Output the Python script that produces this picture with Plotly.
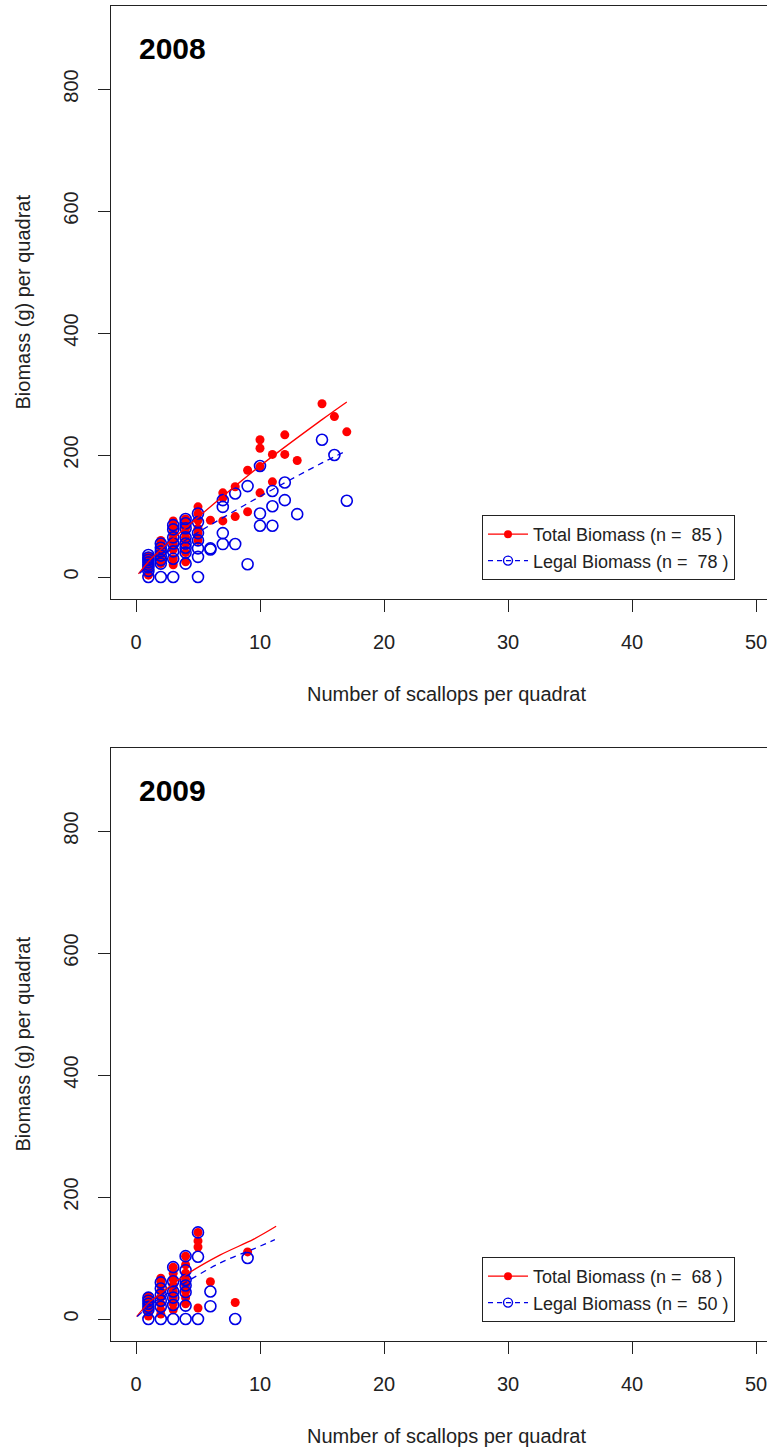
import plotly.graph_objects as go

# ---------------- data ----------------
# 2008
n_total_2008 = [1,1,1,1,1,1,1, 2,2,2,2,2,2,2, 3,3,3,3,3,3,3,3,3, 4,4,4,4,4,4,4,4,
                5,5,5,5,5,5, 6, 7,7,7, 8,8, 9,9, 10,10,10,10, 11,11, 12,12, 13, 15, 16, 17]
b_total_2008 = [3,12,18,22,26,30,34, 22,28,35,42,48,55,60, 20,30,45,55,62,70,78,85,92,
                25,40,55,65,72,80,88,95, 60,72,80,93,104,115, 93, 92,130,138, 99,148,
                107,175, 138,181,211,225, 156,201, 201,233, 191, 284, 263, 238]
n_legal_2008 = [1,1,1,1,1,1,1,1, 2,2,2,2,2,2,2, 3,3,3,3,3,3,3, 4,4,4,4,4,4,4,4,
                5,5,5,5,5,5,5, 6,6, 7,7,7,7, 8,8, 9,9, 10,10,10, 11,11,11, 12,12, 13, 15, 16, 17]
b_legal_2008 = [0,10,16,20,24,28,32,36, 0,22,28,35,42,48,55, 0,30,42,55,65,78,85,
                22,40,48,55,65,80,88,95, 0,33,47,60,72,90,104, 45,47, 54,72,115,126,
                54,137, 21,149, 84,104,182, 84,116,141, 126,155, 103, 225, 200, 125]
fit_n_total_2008 = [0.2, 1, 2, 5, 10, 15, 17]
fit_b_total_2008 = [5, 25, 45, 98, 182, 258, 287]
fit_n_legal_2008 = [0.3, 1, 2, 5, 10, 15, 17]
fit_b_legal_2008 = [6, 19, 34, 73, 132, 187, 207]

# 2009
n_total_2009 = [1,1,1,1,1,1, 2,2,2,2,2,2,2,2, 3,3,3,3,3,3,3,3, 4,4,4,4,4,4,4,4,
                5,5,5,5, 6, 8, 9]
b_total_2009 = [5,12,18,25,30,37, 8,15,25,35,45,55,62,67, 15,25,35,45,55,65,75,85,
                25,35,45,55,65,75,89,103, 18,118,128,142, 61, 27, 110]
n_legal_2009 = [1,1,1,1,1,1, 2,2,2,2,2,2, 3,3,3,3,3,3, 4,4,4,4,4,4,4,
                5,5,5, 6,6, 8, 9]
b_legal_2009 = [0,15,20,25,30,35, 0,20,30,40,50,60, 0,23,35,45,62,85,
                0,22,44,55,64,80,103, 0,102,142, 21,45, 0, 100]
fit_n_total_2009 = [0.05, 1, 2, 4, 6.8, 9.5, 11.3]
fit_b_total_2009 = [4, 26, 42, 72, 105, 131, 152]
fit_n_legal_2009 = [0.1, 1, 2, 4, 6.8, 9.5, 11.2]
fit_b_legal_2009 = [4, 20, 35, 60, 92, 115, 130]

years = ["2008", "2009"]
n_counts_total = [85, 68]
n_counts_legal = [78, 50]
x_ticks = [0, 10, 20, 30, 40, 50]
y_ticks = [0, 200, 400, 600, 800]

# ---------------- figure ----------------
W, H = 767, 1450
RED = "#ff0000"
BLUE = "#0000e6"
FONT = "Liberation Sans, Arial, sans-serif"

panels = [
    dict(nt=n_total_2008, bt=b_total_2008, nl=n_legal_2008, bl=b_legal_2008,
         fnt=fit_n_total_2008, fbt=fit_b_total_2008, fnl=fit_n_legal_2008, fbl=fit_b_legal_2008),
    dict(nt=n_total_2009, bt=b_total_2009, nl=n_legal_2009, bl=b_legal_2009,
         fnt=fit_n_total_2009, fbt=fit_b_total_2009, fnl=fit_n_legal_2009, fbl=fit_b_legal_2009),
]

# pixel geometry of each panel box (top, bottom)
boxes = [(6, 599), (748, 1341)]
box_left = 111
legend_bottoms = [580, 1322]

fig = go.Figure()

for i, p in enumerate(panels):
    xa = "x" if i == 0 else "x2"
    ya = "y" if i == 0 else "y2"
    lg = "legend" if i == 0 else "legend2"
    fig.add_trace(go.Scatter(x=p["nt"], y=p["bt"], mode="markers", xaxis=xa, yaxis=ya,
                             marker=dict(color=RED, size=9, line=dict(width=0)),
                             showlegend=False, hoverinfo="skip"))
    fig.add_trace(go.Scatter(x=p["nl"], y=p["bl"], mode="markers", xaxis=xa, yaxis=ya,
                             marker=dict(symbol="circle-open", color=BLUE, size=11,
                                         line=dict(width=1.6, color=BLUE)),
                             showlegend=False, hoverinfo="skip"))
    fig.add_trace(go.Scatter(x=p["fnt"], y=p["fbt"], mode="lines", xaxis=xa, yaxis=ya,
                             line=dict(color=RED, width=1.3, shape="spline"),
                             showlegend=False, hoverinfo="skip"))
    fig.add_trace(go.Scatter(x=p["fnl"], y=p["fbl"], mode="lines", xaxis=xa, yaxis=ya,
                             line=dict(color=BLUE, width=1.3, dash="6px,5px", shape="spline"),
                             showlegend=False, hoverinfo="skip"))
    # legend entries
    fig.add_trace(go.Scatter(x=[None], y=[None], mode="lines+markers", xaxis=xa, yaxis=ya,
                             name=f"Total Biomass (n =\u00a0 {n_counts_total[i]} )",
                             line=dict(color=RED, width=1.3),
                             marker=dict(color=RED, size=8),
                             legend=lg, showlegend=True))
    fig.add_trace(go.Scatter(x=[None], y=[None], mode="lines+markers", xaxis=xa, yaxis=ya,
                             name=f"Legal Biomass (n =\u00a0 {n_counts_legal[i]} )",
                             line=dict(color=BLUE, width=1.3, dash="5px,4px"),
                             marker=dict(symbol="circle-open", color=BLUE, size=9,
                                         line=dict(width=1.4, color=BLUE)),
                             legend=lg, showlegend=True))

x_range = [(box_left - 136) / 12.4, (W - 136) / 12.4]
y_range = [-(599 - 577) / 0.61, (577 - 6) / 0.61]

axis_common_x = dict(range=x_range, tickvals=x_ticks, ticks="outside", ticklen=12,
                     tickwidth=1, tickcolor="#222", showline=True, linecolor="#222",
                     linewidth=1, mirror=True, showgrid=False, zeroline=False,
                     tickfont=dict(family=FONT, size=20, color="#222"),
                     ticklabelstandoff=13, ticklabeloverflow="allow", fixedrange=True)
axis_common_y = dict(range=y_range, tickvals=y_ticks, ticks="outside", ticklen=12,
                     tickwidth=1, tickcolor="#222", showline=True, linecolor="#222",
                     linewidth=1, mirror=False, showgrid=False, zeroline=False,
                     tickangle=-90,
                     tickfont=dict(family=FONT, size=20, color="#222"),
                     ticklabelstandoff=12, fixedrange=True)

def ydom(top, bottom):
    return [1 - bottom / H, 1 - top / H]

legend_common = dict(xanchor="left", yanchor="bottom", bgcolor="white",
                     bordercolor="#222", borderwidth=1, itemwidth=40,
                     font=dict(family=FONT, size=18, color="#222"), tracegroupgap=0)

fig.update_layout(
    width=W, height=H, margin=dict(l=0, r=0, t=0, b=0),
    paper_bgcolor="white", plot_bgcolor="white",
    xaxis=dict(axis_common_x, domain=[box_left / W, 1], anchor="y"),
    yaxis=dict(axis_common_y, domain=ydom(*boxes[0]), anchor="x"),
    xaxis2=dict(axis_common_x, domain=[box_left / W, 1], anchor="y2"),
    yaxis2=dict(axis_common_y, domain=ydom(*boxes[1]), anchor="x2"),
    legend=dict(legend_common, x=482 / W, y=1 - legend_bottoms[0] / H),
    legend2=dict(legend_common, x=482 / W, y=1 - legend_bottoms[1] / H),
    showlegend=True,
)

annotations = []
for i, (top, bottom) in enumerate(boxes):
    annotations.append(dict(text=f"<b>{years[i]}</b>", xref="paper", yref="paper",
                            x=137 / W, y=1 - (top + 42) / H, xanchor="left", yanchor="middle",
                            showarrow=False, font=dict(family=FONT, size=30, color="black")))
    annotations.append(dict(text="Number of scallops per quadrat", xref="paper", yref="paper",
                            x=446 / W, y=1 - (bottom + 95) / H, xanchor="center", yanchor="middle",
                            showarrow=False, font=dict(family=FONT, size=20, color="#222")))
    annotations.append(dict(text="Biomass (g) per quadrat", xref="paper", yref="paper",
                            x=22 / W, y=1 - ((top + bottom) / 2) / H, xanchor="center",
                            yanchor="middle", textangle=-90,
                            showarrow=False, font=dict(family=FONT, size=20, color="#222")))
fig.update_layout(annotations=annotations)

fig.write_html("out.html", config={"displayModeBar": False},
               post_script="document.body.style.margin='0px';document.body.style.padding='0px';")
